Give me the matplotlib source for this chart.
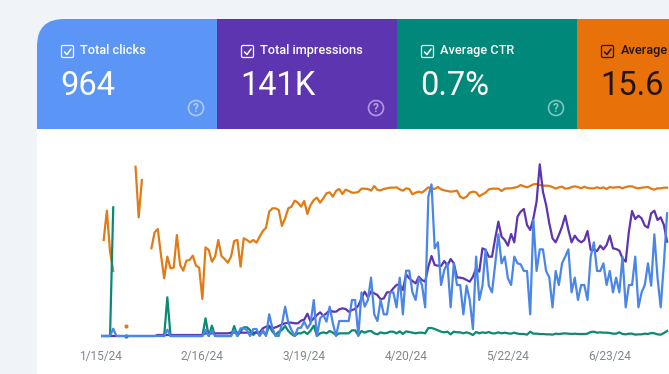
import numpy as np
import matplotlib
matplotlib.use('Agg')
import matplotlib.pyplot as plt
from matplotlib.patches import FancyBboxPatch, Rectangle, Circle

plt.rcParams['font.family'] = ['Roboto', 'DejaVu Sans']

nan = float('nan')

# daily values (y axis is hidden so units are arbitrary)
tick_days = [0, 32, 64, 96, 128, 160]
tick_labels = ['1/15/24', '2/16/24', '3/19/24', '4/20/24', '5/22/24', '6/23/24']

clicks = [0, 0, 0, 0, 22] + [0] * 16 + [19] + [0] * 11 + [18, 0, 18] + [0] * 6 + [
    18, 0, 23, 23, 18, 0, 21, 21, 0, 18, 0, 65, 23, 0, 0, 35, 88, 40,
    18, 0, 23, 25, 43, 23, 38, 108, 0, 53,
    63, 43, 88, 38, 0, 45, 45, 45, 45, 108,
    108, 0, 131, 88, 108, 175, 65, 45, 108, 65,
    65, 131, 131, 86, 175, 65, 196, 196, 131, 108,
    175, 153, 86, 418, 455, 263, 281, 153, 198, 218,
    86, 218, 153, 153, 65, 151, 108, 21, 238, 108,
    151, 260, 151, 131, 215, 305, 218, 238, 173, 153,
    238, 218, 215, 195, 195, 65, 348, 195, 260, 260,
    195, 175, 86, 195, 153, 218, 238, 260, 131, 175,
    108, 153, 153, 108, 238, 281, 195, 195, 218, 153,
    195, 131, 175, 131, 238, 86, 153, 153, 238, 86,
    131, 153, 218, 151, 305, 175, 86, 218, 368]

impressions = [0] * 18 + [3] * 15 + [8] * 8 + [10] * 10 + [
    23, 28, 28, 23, 26, 30, 35, 38, 40,
    40, 38, 38, 46, 49, 67, 43, 53, 63, 71,
    61, 68, 78, 73, 73, 80, 83, 81, 73, 78,
    81, 91, 113, 133, 116, 133, 128, 123, 110, 113,
    131, 131, 143, 153, 155, 138, 185, 173, 165, 158,
    178, 168, 163, 208, 240, 213, 211, 210, 225, 211,
    231, 218, 176, 175, 173, 168, 163, 178, 203, 193,
    263, 258, 238, 238, 293, 343, 298, 288, 271, 306,
    281, 358, 373, 381, 333, 318, 353, 403, 515, 433,
    393, 338, 293, 281, 303, 328, 361, 318, 281, 301,
    288, 281, 288, 315, 258, 258, 255, 271, 260, 273,
    301, 263, 261, 256, 233, 223, 313, 375, 351, 361,
    353, 331, 325, 368, 376, 348, 356, 333, 283]

ctr = [0, 0, 0, 0, 386] + [nan] * 3 + [0] + [nan] * 11 + [0, 116] + [0] * 11 + [53, 0, 31] + [0] * 6 + [
    30, 0, 13, 26, 26, 18, 3, 13, 3, 13, 3, 31, 13, 3, 13, 18, 30, 15,
    6, 0, 8, 8, 13, 6, 16, 31, 0, 8,
    11, 8, 15, 10, 2, 8, 8, 8, 8, 17,
    17, 2, 15, 10, 14, 15, 8, 5, 11, 8,
    9, 13, 13, 8, 14, 6, 14, 12, 10, 8,
    10, 10, 8, 24, 24, 21, 17, 13, 11, 13,
    5, 13, 11, 11, 8, 11, 8, 3, 12, 8,
    11, 9, 12, 8, 8, 11, 8, 10, 8, 7,
    10, 7, 6, 6, 4, 13, 7, 7, 6, 6,
    5, 5, 4, 7, 6, 7, 8, 7, 6, 7,
    6, 6, 6, 7, 12, 13, 10, 11, 10, 10,
    9, 7, 7, 11, 6, 5, 7, 7, 4, 5,
    5, 7, 6, 9, 8, 5, 4, 9, 15]

position = [nan, 288, 376, 253, 195] + [nan] * 3 + [29] + [nan] * 2 + [508, 356, 468, nan, nan] + [
    263, 311, 321, 243, 173, 238, 203, 205, 303, 213,
    196, 226, 228, 241, 211, 205, 111, 266, 258, 223,
    238, 288, 240, 231, 220, 238, 285, 288, 208, 293,
    288, 281, 288, 280, 298, 315, 325, 373, 383, 383,
    378, 330, 353, 383,
    388, 406, 400, 388, 405, 366, 393, 408, 415, 400,
    413, 428, 431, 418, 435, 441, 426, 439, 435, 430,
    430, 432, 442, 442, 441, 436, 450, 438, 437, 441,
    443, 445, 445, 446, 440, 436, 443, 441, 425, 430,
    433, 430, 438, 446, 443, 441, 447, 440, 437, 435,
    433, 434, 436, 418, 413, 418, 430, 433, 431, 419,
    425, 430, 440, 442, 442, 442, 435, 442, 443, 443,
    445, 447, 453, 449, 446, 450, 455, 456, 453, 451,
    451, 450, 447, 442, 446, 448, 442, 443, 447, 449,
    447, 443, 448, 444, 443, 443, 446, 443, 446, 441,
    447, 445, 446, 447, 443, 447, 449, 449, 445, 443,
    445, 446, 447, 442, 439, 443, 443, 445, 445]

assert len(clicks) == len(impressions) == len(ctr) == len(position) == 179

# the last card runs off the right edge, only this much of its title shows
cards = ['Total clicks', 'Total impressions', 'Average CTR', 'Average']
card_values = ['964', '141K', '0.7%', '15.6']
card_colors = ['#5b95f5', '#5e35b1', '#00897b', '#e8710a']
line_colors = ['#4a86e8', '#5e35b1', '#0b8a72', '#e07b16']

W, H = 669, 374
fig = plt.figure(figsize=(W / 100, H / 100), dpi=100, facecolor='#f0f4f9')

# page layer, in pixels
bg = fig.add_axes([0, 0, 1, 1])
bg.set_xlim(0, W)
bg.set_ylim(H, 0)
bg.axis('off')

card = FancyBboxPatch((37 + 27, 19 + 27), 800, 500, boxstyle='round,pad=27,rounding_size=27',
                      fc='white', ec='none')
bg.add_patch(card)

for i, name in enumerate(cards):
    x0 = 37 + 180 * i
    tab = Rectangle((x0, 19), 180, 110, fc=card_colors[i], ec='none')
    bg.add_patch(tab)
    tab.set_clip_path(card)
    fg = '#241405' if i == 3 else 'white'

    box = FancyBboxPatch((x0 + 24.5, 45.5), 12, 12, boxstyle='round,pad=0,rounding_size=1.5',
                         fc='none', ec=fg, lw=0.9)
    bg.add_patch(box)
    bg.plot([x0 + 27.5, x0 + 30, x0 + 34], [52, 54.5, 49], color=fg, lw=1.1, solid_capstyle='round')

    bg.text(x0 + 43.5, 50.5, name, color=fg, fontsize=9.2, weight='medium', va='center', ha='left')
    bg.text(x0 + 23.5, 85.5, card_values[i], color=fg, fontsize=23.5, va='center', ha='left')

    if i < 3:
        bg.add_patch(Circle((x0 + 159, 108), 7.5, fc='none', ec='white', lw=1.2, alpha=0.5))
        bg.text(x0 + 159, 108.3, '?', color='white', alpha=0.55, fontsize=8.5, weight='bold',
                ha='center', va='center')

# chart layer: day 0 sits at 100.5 px, one day is 3.183 px, zero line at 336 px
px_day = 3.183
left, right, top, bottom = 100.5, W, 155, 346
ax = fig.add_axes([left / W, 1 - bottom / H, (right - left) / W, (bottom - top) / H])
ax.patch.set_alpha(0)
ax.set_xlim(0, (right - left) / px_day)
ax.set_ylim(-30, 543)
for s in ax.spines.values():
    s.set_visible(False)
ax.set_yticks([])
ax.set_xticks(tick_days)
ax.set_xticklabels(tick_labels, color='#80868b', fontsize=8.6)
ax.tick_params(axis='x', length=0, pad=3)

days = np.arange(len(clicks))
order = [(position, 3), (ctr, 2), (impressions, 1), (clicks, 0)]
for series, c in order:
    vals = np.array(series, dtype=float)
    ax.plot(days, vals, color=line_colors[c], lw=1.6, solid_joinstyle='round', clip_on=True)
    # points with no neighbour on either side still show as a dot
    prev_nan = np.r_[True, np.isnan(vals[:-1])]
    next_nan = np.r_[np.isnan(vals[1:]), True]
    alone = prev_nan & next_nan & ~np.isnan(vals)
    ax.plot(days[alone], vals[alone], 'o', color=line_colors[c], ms=3, mew=0)

fig.savefig('out.png', dpi=100, facecolor=fig.get_facecolor())
